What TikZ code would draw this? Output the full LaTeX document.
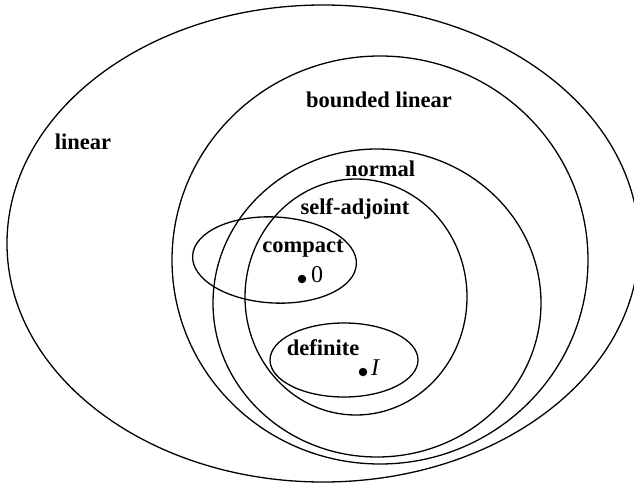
\documentclass[tikz,border=0pt]{standalone}
\usepackage{fontspec}
\setmainfont{Liberation Serif}
\begin{document}
\begin{tikzpicture}[x=1pt,y=-1pt,
  setline/.style={draw=black,line width=1.3pt},
  lab/.style={font=\fontsize{22.5}{26}\selectfont\bfseries,inner sep=0pt},
  elt/.style={font=\fontsize{24}{28}\selectfont,inner sep=0pt},
  dotmark/.style={circle,fill=black,inner sep=0pt,minimum size=8.5pt}]
\useasboundingbox (0,0) rectangle (634,484);
\clip (0,0) rectangle (634,484);
% sets
\draw[setline] (323,243.5) ellipse [x radius=316pt, y radius=238.5pt];
\draw[setline] (380,260) ellipse [x radius=208pt, y radius=204pt];
\draw[setline] (377,303) ellipse [x radius=164pt, y radius=154pt];
\draw[setline] (356,297) ellipse [x radius=111pt, y radius=118pt];
\draw[setline] (274.5,260) ellipse [x radius=82pt, y radius=43pt, rotate=-3];
\draw[setline] (344,360) ellipse [x radius=74pt, y radius=37pt];
% labels
\node[lab] (linear) at (83,142) {linear};
\node[lab] (bounded) at (379,100) {bounded linear};
\node[lab] (normal) at (380,169) {normal};
\node[lab] (selfadj) at (355,209) {self-adjoint};
\node[lab] (compact) at (303,249) {compact};
\node[lab] (definite) at (323,348) {definite};
% elements
\node[dotmark] (zerodot) at (302,279) {};
\node[elt,anchor=west] (zero) at (311,275) {0};
\node[dotmark] (idot) at (363,372) {};
\node[elt,anchor=west] (ident) at (371,368) {\itshape I};
\end{tikzpicture}
\end{document}
